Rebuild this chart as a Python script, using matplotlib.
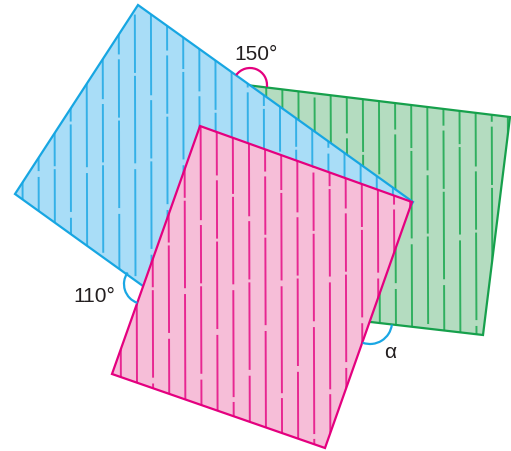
import matplotlib
matplotlib.use("Agg")
import matplotlib.pyplot as plt
from matplotlib.patches import Polygon, Arc
import numpy as np

# Shape vertices (image pixel coordinates)
blue_pts = [(138, 5), (413, 202), (289, 391), (15, 194)]
green_pts = [(238, 84), (510, 117), (483, 335), (362, 321)]
pink_pts = [(200, 126), (412, 202), (325, 448), (112, 374)]

# Angle annotations: label, text position, arc center, radius, start/end angle (deg)
labels = ["150°", "110°", "α"]
label_pos = [(256, 55), (94, 296), (390, 352)]
arc_centers = [(250, 85), (144, 284), (370, 322)]
arc_radius = [17, 20, 22]
arc_theta1 = [-6.8, 144.9, 250.5]
arc_theta2 = [144.3, 250.5, 353.3]
arc_colors = ["#e4007f", "#1aa7e4", "#1aa7e4"]

W, H = 511, 451
fig = plt.figure(figsize=(W / 100, H / 100), dpi=100)
ax = fig.add_axes([0, 0, 1, 1])
ax.set_xlim(0, W)
ax.set_ylim(H, 0)
ax.axis("off")

shapes = [
    (green_pts, "#b4dcc0", "#16a04c", "#22ab55", 426),
    (blue_pts, "#a9ddf7", "#17a6e2", "#27ace6", 38),
    (pink_pts, "#f6bed8", "#e4007f", "#e6178a", 120),
]

z = 1
for pts, fill, edge, hatch, x0 in shapes:
    poly = Polygon(pts, closed=True, facecolor=fill, edgecolor="none", zorder=z)
    ax.add_patch(poly)
    xs = [p[0] for p in pts]
    ys = [p[1] for p in pts]
    start = x0 - 16 * int((x0 - min(xs)) / 16 + 1)
    k = 0
    for x in np.arange(start, max(xs) + 1, 16.1):
        off = (k * 23) % 67
        ln, = ax.plot([x, x + 1], [min(ys) - 5, max(ys) + 5], color=hatch,
                      lw=1.4, alpha=0.9, zorder=z + 0.1, solid_capstyle="butt",
                      dash_capstyle="butt",
                      linestyle=(off, (55, 2.5, 30, 1.5, 45, 3)))
        ln.set_clip_path(poly)
        k += 1
    edgep = Polygon(pts, closed=True, facecolor="none", edgecolor=edge,
                    lw=1.6, zorder=z + 0.2, joinstyle="miter")
    ax.add_patch(edgep)
    z += 1

for lab, pos, c, r, t1, t2, col in zip(labels, label_pos, arc_centers, arc_radius,
                                        arc_theta1, arc_theta2, arc_colors):
    # y axis inverted: negate angles for image coordinates
    arc = Arc(c, 2 * r, 2 * r, theta1=-t2, theta2=-t1, color=col, lw=1.6, zorder=10)
    ax.add_patch(arc)
    ax.text(pos[0], pos[1], lab, fontsize=15, ha="center", va="center",
            color="#231f20", family=["Liberation Sans", "DejaVu Sans"], zorder=11)

fig.savefig("out.png", dpi=100)
